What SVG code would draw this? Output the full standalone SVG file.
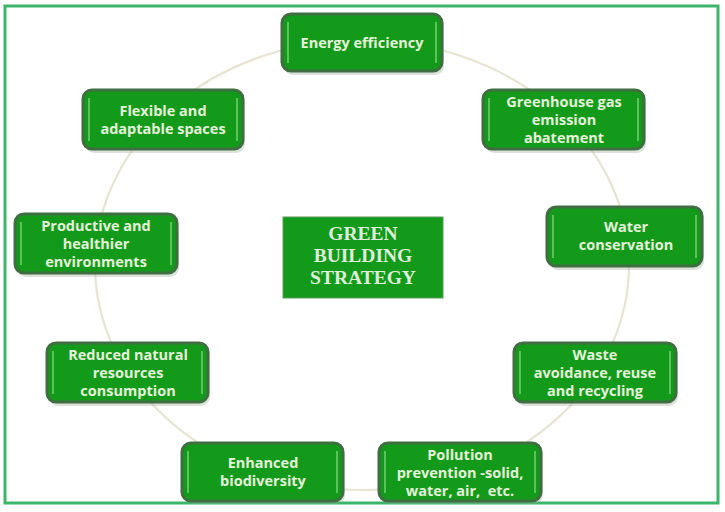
<svg xmlns="http://www.w3.org/2000/svg" width="725" height="512" viewBox="0 0 725 512">
<defs>
<style>
.frame{fill:none;stroke:#3cb56a;stroke-width:3}
.ring{fill:none;stroke:#e6e4d2;stroke-width:2.2}
.box{fill:#139a1a;stroke:#3f6e40;stroke-width:3}
.shadow{fill:#9aa89a;opacity:0.35}
.hl{stroke:#8fdc8a;stroke-width:1.5;opacity:0.8}
.t{font-family:"Open Sans","Noto Sans","DejaVu Sans",sans-serif;font-weight:bold;font-size:14.5px;fill:#e4f3da;text-anchor:middle}
.c{font-family:"Liberation Serif","DejaVu Serif",serif;font-weight:bold;font-size:19.5px;fill:#dfeedb;text-anchor:middle}
.cbox{fill:#139a1a;stroke:#5a9a5a;stroke-width:1}
</style>
</defs>
<rect width="725" height="512" fill="#ffffff"/>
<rect class="frame" x="5" y="6" width="713" height="497"/>
<g id="connectors">
<ellipse class="ring" cx="362" cy="265" rx="267" ry="225"/>
</g>
<g id="center">
<rect class="cbox" x="283" y="217" width="160" height="81"/>
<text class="c" x="363" y="240">GREEN</text>
<text class="c" x="363" y="262">BUILDING</text>
<text class="c" x="363" y="284">STRATEGY</text>
</g>
<g id="n-energy">
<rect class="shadow" x="284" y="17" width="160" height="58" rx="9"/>
<rect class="box" x="282" y="14" width="160" height="57" rx="9"/>
<line class="hl" x1="288" y1="22" x2="288" y2="63"/><line class="hl" x1="436" y1="22" x2="436" y2="63"/>
<text class="t" x="362" y="48">Energy efficiency</text>
</g>
<g id="n-greenhouse">
<rect class="shadow" x="485" y="93" width="161" height="60" rx="9"/>
<rect class="box" x="483" y="90" width="161" height="59" rx="9"/>
<line class="hl" x1="489" y1="98" x2="489" y2="141"/><line class="hl" x1="638" y1="98" x2="638" y2="141"/>
<text class="t" x="564" y="107">Greenhouse gas</text>
<text class="t" x="564" y="125">emission</text>
<text class="t" x="564" y="143">abatement</text>
</g>
<g id="n-water">
<rect class="shadow" x="549" y="210" width="155" height="60" rx="9"/>
<rect class="box" x="547" y="207" width="155" height="59" rx="9"/>
<line class="hl" x1="553" y1="215" x2="553" y2="258"/><line class="hl" x1="696" y1="215" x2="696" y2="258"/>
<text class="t" x="626" y="232">Water</text>
<text class="t" x="626" y="250">conservation</text>
</g>
<g id="n-waste">
<rect class="shadow" x="516" y="346" width="162" height="60" rx="9"/>
<rect class="box" x="514" y="343" width="162" height="59" rx="9"/>
<line class="hl" x1="520" y1="351" x2="520" y2="394"/><line class="hl" x1="670" y1="351" x2="670" y2="394"/>
<text class="t" x="595" y="360">Waste</text>
<text class="t" x="595" y="378">avoidance, reuse</text>
<text class="t" x="595" y="396">and recycling</text>
</g>
<g id="n-pollution">
<rect class="shadow" x="381" y="446" width="162" height="58" rx="9"/>
<rect class="box" x="379" y="443" width="162" height="58" rx="9"/>
<line class="hl" x1="385" y1="451" x2="385" y2="493"/><line class="hl" x1="535" y1="451" x2="535" y2="493"/>
<text class="t" x="460" y="460">Pollution</text>
<text class="t" x="460" y="478">prevention -solid,</text>
<text class="t" x="460" y="496" xml:space="preserve">water, air,  etc.</text>
</g>
<g id="n-biodiversity">
<rect class="shadow" x="184" y="446" width="161" height="58" rx="9"/>
<rect class="box" x="182" y="443" width="161" height="58" rx="9"/>
<line class="hl" x1="188" y1="451" x2="188" y2="493"/><line class="hl" x1="337" y1="451" x2="337" y2="493"/>
<text class="t" x="263" y="468">Enhanced</text>
<text class="t" x="263" y="486">biodiversity</text>
</g>
<g id="n-reduced">
<rect class="shadow" x="49" y="346" width="161" height="60" rx="9"/>
<rect class="box" x="47" y="343" width="161" height="59" rx="9"/>
<line class="hl" x1="53" y1="351" x2="53" y2="394"/><line class="hl" x1="202" y1="351" x2="202" y2="394"/>
<text class="t" x="128" y="360">Reduced natural</text>
<text class="t" x="128" y="378">resources</text>
<text class="t" x="128" y="396">consumption</text>
</g>
<g id="n-productive">
<rect class="shadow" x="17" y="217" width="162" height="60" rx="9"/>
<rect class="box" x="15" y="214" width="162" height="59" rx="9"/>
<line class="hl" x1="21" y1="222" x2="21" y2="265"/><line class="hl" x1="171" y1="222" x2="171" y2="265"/>
<text class="t" x="96" y="231">Productive and</text>
<text class="t" x="96" y="249">healthier</text>
<text class="t" x="96" y="267">environments</text>
</g>
<g id="n-flexible">
<rect class="shadow" x="85" y="93" width="160" height="60" rx="9"/>
<rect class="box" x="83" y="90" width="160" height="59" rx="9"/>
<line class="hl" x1="89" y1="98" x2="89" y2="141"/><line class="hl" x1="237" y1="98" x2="237" y2="141"/>
<text class="t" x="163" y="116">Flexible and</text>
<text class="t" x="163" y="134">adaptable spaces</text>
</g>
</svg>
